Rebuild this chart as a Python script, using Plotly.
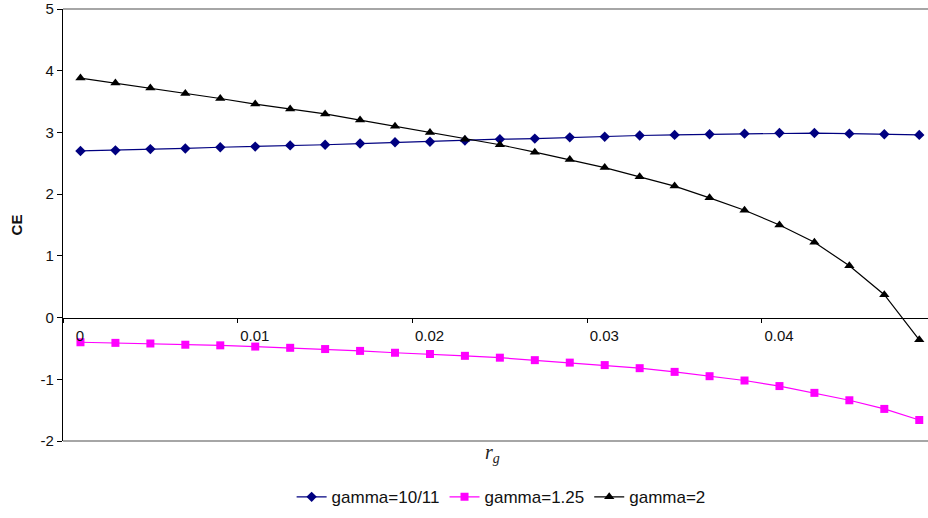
import plotly.graph_objects as go

# growth-rate grid r_g
r_g = [0.001, 0.003, 0.005, 0.007, 0.009, 0.011, 0.013, 0.015, 0.017, 0.019,
       0.021, 0.023, 0.025, 0.027, 0.029, 0.031, 0.033, 0.035, 0.037, 0.039,
       0.041, 0.043, 0.045, 0.047, 0.049]

# certainty equivalents for each gamma
ce_gamma_10_11 = [2.70, 2.71, 2.73, 2.74, 2.76, 2.77, 2.79, 2.80, 2.82, 2.84,
                  2.85, 2.87, 2.89, 2.90, 2.92, 2.93, 2.95, 2.96, 2.97, 2.98,
                  2.99, 2.99, 2.98, 2.97, 2.96]
ce_gamma_1_25 = [-0.40, -0.41, -0.42, -0.44, -0.45, -0.47, -0.49, -0.51, -0.54, -0.57,
                 -0.59, -0.62, -0.65, -0.69, -0.73, -0.77, -0.82, -0.88, -0.95, -1.02,
                 -1.11, -1.22, -1.34, -1.48, -1.66]
ce_gamma_2 = [3.88, 3.80, 3.72, 3.63, 3.55, 3.46, 3.38, 3.30, 3.20, 3.10,
              3.00, 2.89, 2.80, 2.68, 2.56, 2.43, 2.28, 2.13, 1.94, 1.74,
              1.50, 1.22, 0.84, 0.37, -0.36]

series_names = ["gamma=10/11", "gamma=1.25", "gamma=2"]
x_ticks = [0, 0.01, 0.02, 0.03, 0.04]
x_tick_labels = ["0", "0.01", "0.02", "0.03", "0.04"]
y_ticks = [-2, -1, 0, 1, 2, 3, 4, 5]
y_tick_labels = ["-2", "-1", "0", "1", "2", "3", "4", "5"]

Y_MIN, Y_MAX = -2, 5

fig = go.Figure()
styles = [
    ("#000080", "diamond", 8),
    ("#FF00FF", "square", 8),
    ("#000000", "triangle-up", 9),
]
for name, ys, (color, symbol, size) in zip(series_names,
                                           [ce_gamma_10_11, ce_gamma_1_25, ce_gamma_2],
                                           styles):
    fig.add_trace(go.Scatter(
        x=r_g, y=ys, name=name, mode="lines+markers",
        line=dict(color=color, width=1.2),
        marker=dict(symbol=symbol, size=size, color=color),
    ))

font = dict(family="Liberation Sans, Arial, sans-serif", size=15, color="#111111")

fig.update_layout(
    width=928, height=518,
    margin=dict(l=63, r=0, t=9, b=77),
    paper_bgcolor="white", plot_bgcolor="white",
    font=font,
    showlegend=True,
    legend=dict(orientation="h", x=0.54, xanchor="center", xref="container",
                y=0.04, yanchor="middle", yref="container",
                font=dict(size=17), itemwidth=30, tracegroupgap=0),
    xaxis=dict(
        range=[0, 0.0495], tickvals=x_ticks, ticktext=x_tick_labels,
        anchor="free", position=(0 - Y_MIN) / (Y_MAX - Y_MIN),
        showline=True, linecolor="black", linewidth=1.2,
        ticks="outside", ticklen=4, tickcolor="black",
        ticklabelshift=17,
        showgrid=False, zeroline=False,
    ),
    yaxis=dict(
        range=[Y_MIN, Y_MAX], tickvals=y_ticks, ticktext=y_tick_labels,
        showline=True, linecolor="black", linewidth=1.2,
        ticks="outside", ticklen=5, tickcolor="black",
        showgrid=False, zeroline=False,
        title=dict(text="<b>CE</b>", font=dict(size=15), standoff=14),
    ),
    shapes=[
        dict(type="line", xref="paper", yref="paper", x0=0, x1=1, y0=1, y1=1,
             line=dict(color="#a6a6a6", width=2), layer="below"),
        dict(type="line", xref="paper", yref="paper", x0=0, x1=1, y0=0, y1=0,
             line=dict(color="#a6a6a6", width=2), layer="below"),
    ],
    annotations=[
        dict(text="<i>r</i><sub><i>g</i></sub>", xref="paper", yref="paper",
             x=(492 - 63) / 865, y=-0.03, xanchor="center", yanchor="middle",
             showarrow=False,
             font=dict(family="Liberation Serif, DejaVu Serif, serif", size=20, color="#222222")),
    ],
)

fig.write_html("out.html")
